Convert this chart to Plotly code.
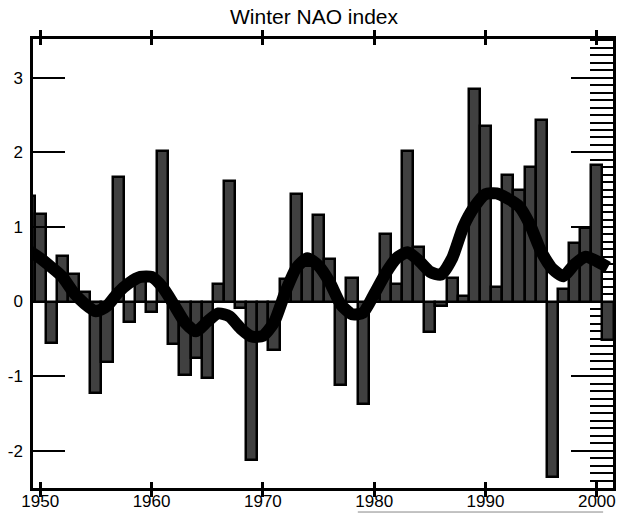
import plotly.graph_objects as go

# ---- data ----
years = list(range(1949, 2002))
nao = [1.42, 1.18, -0.55, 0.61, 0.37, 0.13, -1.23, -0.81, 1.67, -0.27,
       0.27, -0.14, 2.02, -0.57, -0.99, -0.76, -1.03, 0.24, 1.62, -0.08,
       -2.12, -0.45, -0.65, 0.30, 1.44, 0.47, 1.16, 0.57, -1.12, 0.32,
       -1.37, 0.05, 0.91, 0.23, 2.02, 0.73, -0.41, -0.06, 0.32, 0.07,
       2.85, 2.36, 0.20, 1.69, 1.50, 1.80, 2.44, -2.35, 0.17, 0.78,
       0.99, 1.83, -0.51]
smooth = [0.68, 0.58, 0.46, 0.33, 0.12, -0.03, -0.13, -0.06, 0.12, 0.25,
          0.33, 0.33, 0.19, -0.04, -0.28, -0.40, -0.27, -0.16, -0.20, -0.36,
          -0.47, -0.46, -0.28, 0.12, 0.45, 0.58, 0.48, 0.26, -0.04, -0.17,
          -0.15, 0.10, 0.37, 0.58, 0.66, 0.55, 0.40, 0.36, 0.58, 1.00,
          1.27, 1.44, 1.45, 1.38, 1.28, 1.03, 0.67, 0.44, 0.34, 0.50,
          0.60, 0.54, 0.46]
x_ticks = [1950, 1960, 1970, 1980, 1990, 2000]
y_ticks = [-2, -1, 0, 1, 2, 3]
y_ticktext = ["-2", "-1", "0", "1", "2", "3"]
title = "Winter NAO index"

FONT = "Liberation Sans"
XR = [1949.35, 2001.45]
YR = [-2.5, 3.52]

fig = go.Figure()
# empty helper trace so the left axis (y) subplot exists
fig.add_trace(go.Scatter(x=[], y=[], yaxis="y", showlegend=False,
                         hoverinfo="skip"))
fig.add_trace(go.Bar(
    x=years, y=nao, width=1.0,
    marker=dict(color="#404040", line=dict(color="black", width=2.5)),
    yaxis="y2", showlegend=False, hoverinfo="x+y"))
fig.add_trace(go.Scatter(
    x=years, y=smooth, mode="lines",
    line=dict(color="black", width=12, shape="spline", smoothing=0.6),
    yaxis="y2", showlegend=False))

fig.update_layout(
    width=617, height=513,
    margin=dict(l=33, r=4, t=39, b=25, autoexpand=False),
    paper_bgcolor="white", plot_bgcolor="white",
    bargap=0,
    font=dict(family=FONT, size=17, color="black"),
    title=dict(text=title, x=314/617, xanchor="center", y=1-17/513,
               yanchor="middle", font=dict(family=FONT, size=21, color="black")),
    xaxis=dict(range=XR, tickvals=x_ticks, ticks="inside", ticklen=6,
               tickwidth=3, tickcolor="black", showline=True, linewidth=2.5,
               linecolor="black", mirror="allticks", showgrid=False,
               zeroline=False, automargin=False, ticklabelstandoff=-4,
               tickfont=dict(size=17)),
    yaxis=dict(range=YR, tickvals=y_ticks, ticktext=y_ticktext,
               ticks="inside", ticklen=32, tickwidth=2, tickcolor="black",
               showline=True, linewidth=2.5, linecolor="black",
               showgrid=False, zeroline=False, layer="above traces",
               automargin=False, ticklabelstandoff=4,
               tickfont=dict(size=17)),
    yaxis2=dict(range=YR, overlaying="y", side="right", anchor="x",
                tickmode="linear", tick0=0, dtick=1, ticks="inside",
                ticklen=42, tickwidth=2, tickcolor="black",
                showticklabels=False, showline=True, linewidth=3,
                linecolor="black", showgrid=False, zeroline=False,
                layer="below traces", automargin=False,
                minor=dict(ticks="inside", tick0=0, dtick=0.1, ticklen=23,
                           tickwidth=2, tickcolor="black", showgrid=False)),
    shapes=[dict(type="line", xref="paper", yref="paper",
                 x0=0.56, x1=0.983, y0=-0.0535, y1=-0.0535,
                 line=dict(color="#888888", width=1))],
)

fig.write_html("out.html",
               config={"displayModeBar": False},
               post_script="document.body.style.margin='0';"
                           "document.body.style.overflow='hidden';")
